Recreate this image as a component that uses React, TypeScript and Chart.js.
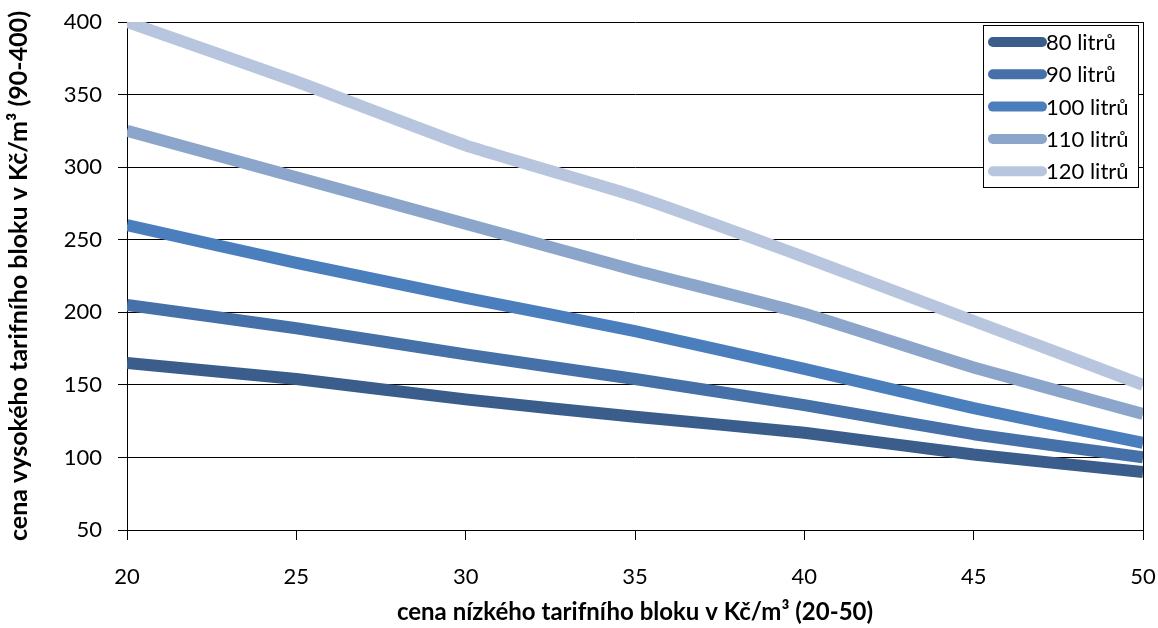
import React, { useEffect, useRef } from "react";
import { Chart, registerables } from "chart.js";

Chart.register(...registerables);

const xValues = [20, 25, 30, 35, 40, 45, 50];
const series80 = [165, 154, 140, 128, 117, 102, 90];
const series90 = [205, 189, 171, 154, 136, 116, 100];
const series100 = [260, 234, 210, 187, 161, 134, 110];
const series110 = [325, 293, 261, 229, 199, 162, 130];
const series120 = [400, 359, 315, 280, 238, 194, 150];
const seriesLabels = ["80 litrů", "90 litrů", "100 litrů", "110 litrů", "120 litrů"];
const seriesColors = ["#3a5d8c", "#4570a8", "#4a7ebc", "#8ba5cb", "#b8c5de"];
const xTitle = "cena nízkého tarifního bloku v Kč/m³ (20-50)";
const yTitle = "cena vysokého tarifního bloku v Kč/m³ (90-400)";

const FONT = "Lato, 'Open Sans', sans-serif";

const legendPlugin = {
  id: "boxLegend",
  afterDraw(chart: any) {
    const ctx = chart.ctx;
    const left = 983;
    const top = 25;
    const w = 155;
    const h = 162;
    ctx.save();
    ctx.fillStyle = "#fff";
    ctx.fillRect(left, top, w, h);
    ctx.strokeStyle = "#000";
    ctx.lineWidth = 1;
    ctx.strokeRect(left + 0.5, top + 0.5, w, h);
    ctx.font = `22px ${FONT}`;
    ctx.textBaseline = "middle";
    chart.data.datasets.forEach((ds: any, i: number) => {
      const y = top + 17 + i * 32.3;
      ctx.strokeStyle = ds.borderColor;
      ctx.lineWidth = 10;
      ctx.lineCap = "round";
      ctx.beginPath();
      ctx.moveTo(993, y);
      ctx.lineTo(1042, y);
      ctx.stroke();
      ctx.fillStyle = "#000";
      ctx.fillText(ds.label, 1046, y + 1);
    });
    ctx.restore();
  },
};

export default function App() {
  const ref = useRef<HTMLCanvasElement>(null);
  useEffect(() => {
    const all = [series80, series90, series100, series110, series120];
    const chart = new Chart(ref.current!, {
      type: "line",
      data: {
        datasets: all.map((s, i) => ({
          label: seriesLabels[i],
          data: xValues.map((x, j) => ({ x, y: s[j] })),
          borderColor: seriesColors[i],
          backgroundColor: seriesColors[i],
          borderWidth: 12,
          pointRadius: 0,
          tension: 0.15,
          borderCapStyle: "butt",
          borderJoinStyle: "round",
        })),
      },
      options: {
        animation: false,
        responsive: false,
        maintainAspectRatio: false,
        layout: { padding: { top: 22, right: 15, left: 0, bottom: 0 } },
        plugins: { legend: { display: false }, tooltip: { enabled: false } },
        scales: {
          x: {
            type: "linear",
            min: 20,
            max: 50,
            afterFit: (s: any) => {
              s.height = 98;
              s.paddingLeft = 0;
              s.paddingRight = 0;
            },
            ticks: { stepSize: 5, color: "#000", font: { family: FONT, size: 22 }, padding: 24 },
            grid: {
              color: (c: any) => (c.index === 6 ? "#000" : "rgba(0,0,0,0)"),
              tickColor: "#000",
              tickLength: 10,
              drawOnChartArea: true,
            },
            border: { color: "#000", width: 1 },
            title: {
              display: true,
              text: xTitle,
              color: "#000",
              font: { family: FONT, size: 24, weight: "bold" },
              padding: { top: 0, bottom: 1 },
            },
          },
          y: {
            min: 50,
            max: 400,
            afterFit: (s: any) => {
              s.width = 127;
              s.paddingTop = 0;
              s.paddingBottom = 0;
            },
            ticks: { stepSize: 50, color: "#000", font: { family: FONT, size: 22 }, padding: 16 },
            grid: { color: "#000", tickColor: "#000", tickLength: 9 },
            border: { color: "#000", width: 1 },
            title: {
              display: true,
              text: yTitle,
              color: "#000",
              font: { family: FONT, size: 25, weight: "bold" },
              padding: { top: 4, bottom: 0 },
            },
          },
        },
      },
      plugins: [legendPlugin],
    } as any);
    return () => chart.destroy();
  }, []);
  return (
    <div style={{ position: "absolute", left: 0, top: 0, width: 1158, height: 628, background: "#fff" }}>
      <canvas ref={ref} width={1158} height={628} style={{ width: 1158, height: 628 }} />
    </div>
  );
}
